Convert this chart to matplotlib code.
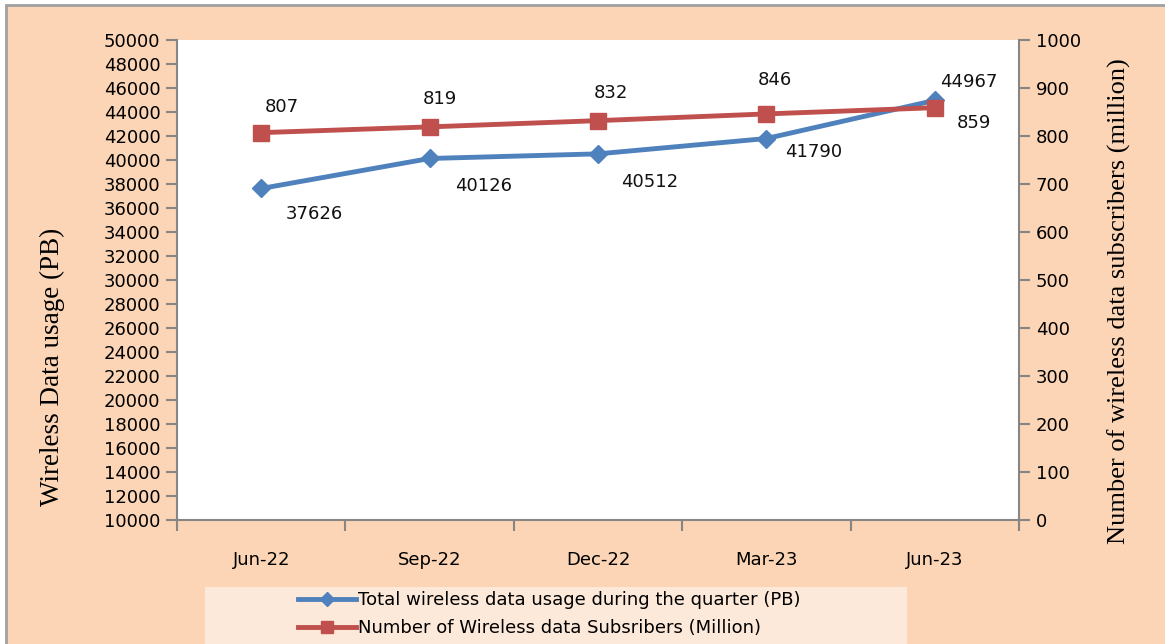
import matplotlib
matplotlib.use("Agg")
import matplotlib.pyplot as plt
from matplotlib.patches import Rectangle
from matplotlib.lines import Line2D

quarters = ["Jun-22", "Sep-22", "Dec-22", "Mar-23", "Jun-23"]
usage_pb = [37626, 40126, 40512, 41790, 44967]
subscribers_mn = [807, 819, 832, 846, 859]

usage_label = "Total wireless data usage during the quarter (PB)"
subs_label = "Number of Wireless data Subsribers (Million)"

# label offsets in pixels (dx, dy) relative to each point
usage_offsets = [(53, -26), (54, -28), (52, -28), (47, -13), (34, 18)]
subs_offsets = [(21, 26), (10, 28), (13, 28), (8, 34), (39, -15)]

blue = "#4F81BD"
red = "#C0504D"
peach = "#FBD5B5"
grey = "#868686"
num_font = ["DejaVu Sans"]
narrow_font = ["Liberation Sans Narrow", "DejaVu Sans"]
serif_font = ["Liberation Serif", "DejaVu Serif"]

W, H = 1165, 644
fig = plt.figure(figsize=(W / 100, H / 100), dpi=100)
fig.patch.set_facecolor("white")

# peach chart area with a grey frame on top/left
fig.patches.append(Rectangle((6 / W, -0.1), 1.2, 1 - 5 / H + 0.1, transform=fig.transFigure,
                             facecolor=peach, edgecolor="#A0A0A0", linewidth=2, zorder=-2))
# legend background
fig.patches.append(Rectangle((205 / W, -0.05), 702 / W, (644 - 587) / H + 0.05,
                             transform=fig.transFigure, facecolor="#FDE9D9",
                             edgecolor="none", zorder=-1))

ax = fig.add_axes([177 / W, 1 - 520 / H, (1019 - 177) / W, (520 - 40) / H])
ax.set_facecolor("white")
ax2 = ax.twinx()

x = list(range(len(quarters)))
ax.plot(x, usage_pb, color=blue, lw=3.5, marker="D", markersize=9, zorder=3)
ax2.plot(x, subscribers_mn, color=red, lw=3.5, marker="s", markersize=12, zorder=3)

ax.set_xlim(-0.5, len(quarters) - 0.5)
ax.set_ylim(10000, 50000)
ax.set_yticks(range(10000, 50001, 2000))
ax2.set_ylim(0, 1000)
ax2.set_yticks(range(0, 1001, 100))

ax.set_xticks([i - 0.5 for i in range(len(quarters) + 1)])
ax.set_xticklabels([])
ax.set_xticks(x, minor=True)
ax.set_xticklabels(quarters, minor=True, fontsize=13, family=narrow_font)
ax.tick_params(axis="x", which="minor", length=0, pad=22)
ax.tick_params(axis="x", which="major", length=8, color=grey, width=1.5)

for a in (ax, ax2):
    for s in a.spines.values():
        s.set_visible(False)
ax.spines["left"].set_visible(True)
ax.spines["bottom"].set_visible(True)
ax2.spines["right"].set_visible(True)
for s in (ax.spines["left"], ax.spines["bottom"], ax2.spines["right"]):
    s.set_color(grey)
    s.set_linewidth(1.5)

ax.tick_params(axis="y", length=8, color=grey, width=1.5, labelsize=13, pad=4)
ax2.tick_params(axis="y", length=8, color=grey, width=1.5, labelsize=13, pad=4)
for lab in ax.get_yticklabels() + ax2.get_yticklabels():
    lab.set_family(num_font)

ax.set_ylabel("Wireless Data usage (PB)", fontsize=19.5, family=serif_font)
ax.yaxis.set_label_coords(-0.133, 0.319)
ax2.set_ylabel("Number of wireless data subscribers (million)", fontsize=19,
               family=serif_font, rotation=90)
ax2.yaxis.set_label_coords(1.105, 0.456)

for xi, v, (dx, dy) in zip(x, usage_pb, usage_offsets):
    ax.annotate(str(v), (xi, v), xytext=(dx, dy), textcoords="offset pixels",
                ha="center", va="center", fontsize=13, family=num_font, color="#111111")
for xi, v, (dx, dy) in zip(x, subscribers_mn, subs_offsets):
    ax2.annotate(str(v), (xi, v), xytext=(dx, dy), textcoords="offset pixels",
                 ha="center", va="center", fontsize=13, family=num_font, color="#111111")

handles = [Line2D([], [], color=blue, lw=3.5, marker="D", markersize=7),
           Line2D([], [], color=red, lw=3.5, marker="s", markersize=9)]
fig.legend(handles, [usage_label, subs_label], loc="upper left",
           bbox_to_anchor=(298 / W, 1 - 591 / H), frameon=False,
           prop={"family": narrow_font, "size": 13}, handlelength=3.2,
           handletextpad=0.15, labelspacing=0.55, borderpad=0, borderaxespad=0)

fig.savefig("out.png", dpi=100, facecolor=fig.get_facecolor())
